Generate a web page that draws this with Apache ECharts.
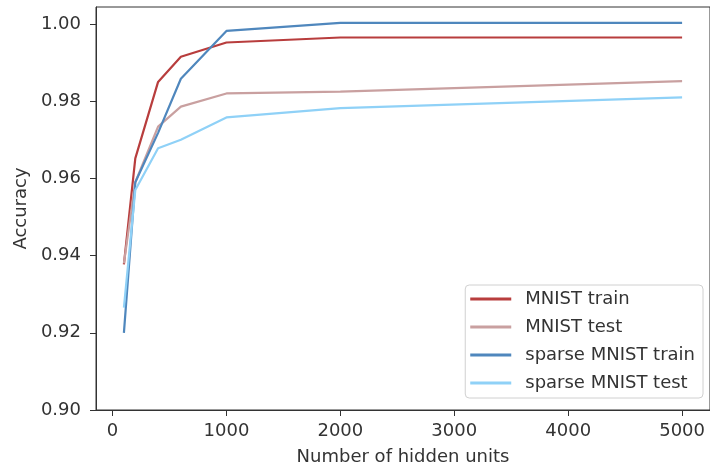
<!DOCTYPE html>
<html>
<head>
<meta charset="utf-8">
<script src="https://cdn.jsdelivr.net/npm/echarts@6/dist/echarts.min.js"></script>
<style>
  html, body { margin: 0; padding: 0; background: #fff; }
  #chart { width: 710px; height: 471px; }
</style>
</head>
<body>
<div id="chart"></div>
<script>
const hiddenUnits = [100, 200, 400, 600, 1000, 2000, 5000];
const mnistTrain = [0.9377, 0.9652, 0.985, 0.9915, 0.9952, 0.9965, 0.9965];
const mnistTest = [0.938, 0.959, 0.9734, 0.9786, 0.9820, 0.9825, 0.9852];
const sparseTrain = [0.920, 0.959, 0.9718, 0.9858, 0.9982, 1.0003, 1.0003];
const sparseTest = [0.9265, 0.957, 0.9678, 0.970, 0.9758, 0.9782, 0.9810];

const seriesNames = ['MNIST train', 'MNIST test', 'sparse MNIST train', 'sparse MNIST test'];
const seriesColors = ['#b83d3d', '#c9a0a0', '#4f87bd', '#8fd1f7'];
const seriesValues = [mnistTrain, mnistTest, sparseTrain, sparseTest];

const xTicks = [0, 1000, 2000, 3000, 4000, 5000];
const yTicks = [0.90, 0.92, 0.94, 0.96, 0.98, 1.00];

const font = 'DejaVu Sans';
const chart = echarts.init(document.getElementById('chart'));

chart.setOption({
  animation: false,
  textStyle: { fontFamily: font },
  grid: {
    left: 96, right: -3, top: 7, bottom: 60,
    show: true, borderColor: '#333', borderWidth: 1, backgroundColor: 'transparent'
  },
  legend: {
    orient: 'vertical',
    right: 7,
    top: 285,
    icon: 'rect',
    itemWidth: 41,
    itemHeight: 3,
    itemGap: 8,
    padding: [4, 8, 5, 5],
    borderColor: '#d0d0d0',
    borderWidth: 1,
    borderRadius: 4,
    backgroundColor: '#fff',
    textStyle: { fontFamily: font, fontSize: 18, color: '#333', lineHeight: 20, padding: [0, 0, 0, 9] },
    data: seriesNames
  },
  xAxis: {
    type: 'value',
    min: -145,
    max: 5245,
    name: 'Number of hidden units',
    nameLocation: 'middle',
    nameGap: 38,
    nameTextStyle: { fontFamily: font, fontSize: 18, color: '#333' },
    splitLine: { show: false },
    axisLine: { onZero: false, lineStyle: { color: '#333', width: 1 } },
    axisTick: {
      show: true, length: 6, inside: false,
      customValues: xTicks,
      lineStyle: { color: '#333' }
    },
    axisLabel: {
      customValues: xTicks,
      formatter: v => String(v),
      fontFamily: font, fontSize: 18, color: '#333', margin: 12
    }
  },
  yAxis: {
    type: 'value',
    min: 0.9,
    max: 1.0044,
    name: 'Accuracy',
    nameLocation: 'middle',
    nameGap: 64,
    nameTextStyle: { fontFamily: font, fontSize: 18, color: '#333' },
    splitLine: { show: false },
    axisLine: { show: true, onZero: false, lineStyle: { color: '#333', width: 1 } },
    axisTick: {
      show: true, length: 6, inside: false,
      customValues: yTicks,
      lineStyle: { color: '#333' }
    },
    axisLabel: {
      customValues: yTicks,
      formatter: v => v.toFixed(2),
      fontFamily: font, fontSize: 18, color: '#333', margin: 15
    }
  },
  series: seriesNames.map((name, i) => ({
    name: name,
    type: 'line',
    symbol: 'none',
    data: hiddenUnits.map((x, j) => [x, seriesValues[i][j]]),
    lineStyle: { color: seriesColors[i], width: 2.2 },
    itemStyle: { color: seriesColors[i] }
  }))
});
</script>
</body>
</html>
